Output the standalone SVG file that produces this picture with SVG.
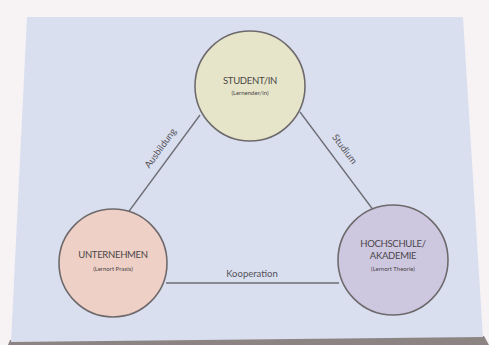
<svg xmlns="http://www.w3.org/2000/svg" width="489" height="345" viewBox="0 0 489 345">
<style>
.c{stroke:#6e6a6c;stroke-width:1.6}
.t{font-family:Lato,"Liberation Sans",sans-serif;fill:#4a4648;text-anchor:middle}
.h{font-size:9.5px;letter-spacing:-0.3px}
.s{font-size:6px}
.l{font-family:Lato,"Liberation Sans",sans-serif;fill:#55525a;font-size:9.5px;text-anchor:middle}
.e{stroke:#6e6c74;stroke-width:1.3;fill:none}
</style>
<rect width="489" height="345" fill="#f7f3f5"/>
<polygon points="10,340 484,336 489,345 8,345" fill="#8c8482"/>
<polygon points="27,17 463,17 483,337 11,342" fill="#d9dfef"/>
<g id="connectors">
<line class="e" x1="200" y1="115" x2="124" y2="218"/>
<line class="e" x1="300" y1="112" x2="374" y2="211"/>
<line class="e" x1="166" y1="283" x2="339" y2="283"/>
<text class="l" transform="translate(163,150) rotate(-54)">Ausbildung</text>
<text class="l" transform="translate(342,151) rotate(53)">Studium</text>
<text class="l" x="252" y="277">Kooperation</text>
</g>
<g id="student">
<circle class="c" cx="250" cy="86" r="55" fill="#e6e5c9"/>
<text class="t h" x="250" y="84">STUDENT/IN</text>
<text class="t s" x="250" y="95">(Lernender/in)</text>
</g>
<g id="unternehmen">
<circle class="c" cx="113" cy="263" r="54" fill="#efd0c6"/>
<text class="t h" x="113" y="258">UNTERNEHMEN</text>
<text class="t s" x="113" y="271">(Lernort Praxis)</text>
</g>
<g id="hochschule">
<circle class="c" cx="393" cy="260" r="55" fill="#cec7e0"/>
<text class="t h" x="393" y="247">HOCHSCHULE/</text>
<text class="t h" x="393" y="259">AKADEMIE</text>
<text class="t s" x="393" y="271">(Lernort Theorie)</text>
</g>
</svg>
